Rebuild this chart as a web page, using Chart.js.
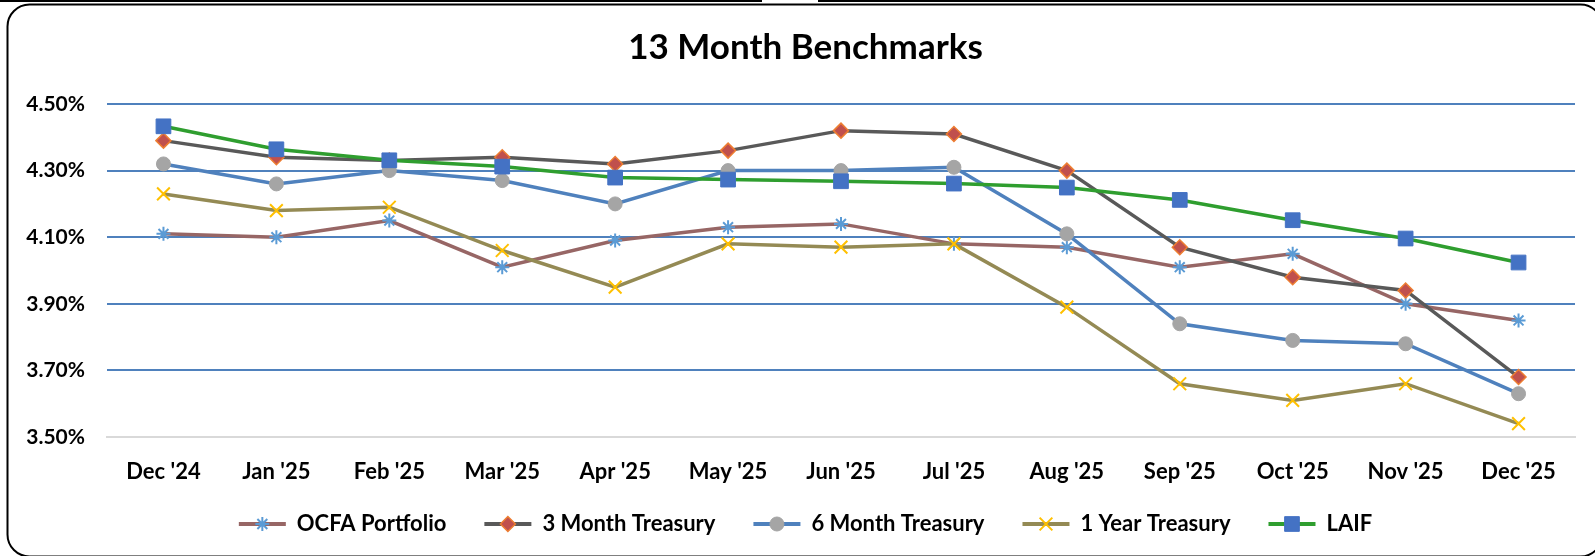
<!DOCTYPE html>
<html>
<head>
<meta charset="utf-8">
<title>13 Month Benchmarks</title>
<script src="https://cdn.jsdelivr.net/npm/chart.js@4.4.1/dist/chart.umd.min.js"></script>
<style>
  html, body { margin: 0; padding: 0; background: #fff; }
  canvas { display: block; }
</style>
</head>
<body>
<canvas id="benchChart" width="1595" height="556"></canvas>
<script>
// 13 month benchmark yields (percent)
const months = ["Dec '24", "Jan '25", "Feb '25", "Mar '25", "Apr '25", "May '25", "Jun '25",
                "Jul '25", "Aug '25", "Sep '25", "Oct '25", "Nov '25", "Dec '25"];
const ocfaPortfolio = [4.11, 4.10, 4.15, 4.01, 4.09, 4.13, 4.14, 4.08, 4.07, 4.01, 4.05, 3.90, 3.85];
const treasury3m = [4.39, 4.34, 4.33, 4.34, 4.32, 4.36, 4.42, 4.41, 4.30, 4.07, 3.98, 3.94, 3.68];
const treasury6m = [4.32, 4.26, 4.30, 4.27, 4.20, 4.30, 4.30, 4.31, 4.11, 3.84, 3.79, 3.78, 3.63];
const treasury1y = [4.23, 4.18, 4.19, 4.06, 3.95, 4.08, 4.07, 4.08, 3.89, 3.66, 3.61, 3.66, 3.54];
const laif = [4.433, 4.364, 4.331, 4.312, 4.279, 4.273, 4.268, 4.261, 4.249, 4.212, 4.151, 4.096, 4.024];
const yTicks = [3.5, 3.7, 3.9, 4.1, 4.3, 4.5];

Chart.defaults.font.family = 'Lato, "Open Sans", sans-serif';
Chart.defaults.font.weight = 'bold';
Chart.defaults.color = '#000';

// white background + rounded frame like the Excel chart object
const framePlugin = {
  id: 'frame',
  beforeDraw(chart) {
    const ctx = chart.ctx;
    ctx.save();
    ctx.fillStyle = '#fff';
    ctx.fillRect(0, 0, chart.width, chart.height);
    ctx.strokeStyle = '#000';
    ctx.lineWidth = 2;
    ctx.beginPath();
    ctx.moveTo(0, 1); ctx.lineTo(762, 1);
    ctx.moveTo(818, 1); ctx.lineTo(chart.width, 1);
    ctx.stroke();
    ctx.beginPath();
    ctx.roundRect(7.5, 4.5, 1595, 552, 22);
    ctx.stroke();
    ctx.restore();
  }
};

// the Excel frame runs past the right edge, so title/legend sit a bit right of canvas centre
const nudgePlugin = {
  id: 'nudge',
  afterLayout(chart) {
    if (chart.titleBlock) { chart.titleBlock.left += 18; chart.titleBlock.right += 18; }
    if (chart.legend) { chart.legend.left += 18; chart.legend.right += 18; }
  }
};

// draw each series' marker in the middle of its legend line
const legendMarkers = {
  id: 'legendMarkers',
  afterDraw(chart) {
    const legend = chart.legend;
    if (!legend || !legend.legendHitBoxes) return;
    const ctx = chart.ctx;
    const boxW = legend.options.labels.boxWidth;
    legend.legendItems.forEach((item, i) => {
      const hb = legend.legendHitBoxes[i];
      const ds = chart.data.datasets[item.datasetIndex];
      const x = hb.left + boxW / 2;
      const y = hb.top + hb.height / 2;
      ctx.save();
      ctx.fillStyle = ds.pointBackgroundColor;
      ctx.strokeStyle = ds.pointBorderColor;
      ctx.lineWidth = ds.pointBorderWidth;
      Chart.helpers.drawPoint(ctx, {
        pointStyle: ds.pointStyle,
        radius: ds.pointRadius,
        rotation: 0,
        borderWidth: ds.pointBorderWidth
      }, x, y);
      ctx.restore();
    });
  }
};

new Chart(document.getElementById('benchChart'), {
  type: 'line',
  data: {
    labels: months,
    datasets: [
      {
        label: 'OCFA Portfolio', data: ocfaPortfolio, order: 4,
        borderColor: '#976665', backgroundColor: '#976665', borderWidth: 3.5,
        pointStyle: 'star', pointRadius: 7, pointBorderWidth: 2,
        pointBorderColor: '#5b9bd5', pointBackgroundColor: 'rgba(0,0,0,0)'
      },
      {
        label: '3 Month Treasury', data: treasury3m, order: 3,
        borderColor: '#595959', backgroundColor: '#595959', borderWidth: 3.5,
        pointStyle: 'rectRot', pointRadius: 7.5, pointBorderWidth: 1.5,
        pointBorderColor: '#ed7d31', pointBackgroundColor: '#c0504d'
      },
      {
        label: '6 Month Treasury', data: treasury6m, order: 2,
        borderColor: '#4f81bd', backgroundColor: '#4f81bd', borderWidth: 3.5,
        pointStyle: 'circle', pointRadius: 7, pointBorderWidth: 1,
        pointBorderColor: '#a5a5a5', pointBackgroundColor: '#a5a5a5'
      },
      {
        label: '1 Year Treasury', data: treasury1y, order: 1,
        borderColor: '#948a54', backgroundColor: '#948a54', borderWidth: 3.5,
        pointStyle: 'crossRot', pointRadius: 9, pointBorderWidth: 2,
        pointBorderColor: '#ffc000', pointBackgroundColor: 'rgba(0,0,0,0)'
      },
      {
        label: 'LAIF', data: laif, order: 0,
        borderColor: '#2f9e2f', backgroundColor: '#2f9e2f', borderWidth: 3.5,
        pointStyle: 'rect', pointRadius: 10.4, pointBorderWidth: 1,
        pointBorderColor: '#4472c4', pointBackgroundColor: '#4472c4'
      }
    ]
  },
  options: {
    responsive: false,
    animation: false,
    devicePixelRatio: 1,
    layout: { padding: { left: 0, right: 20, top: 0, bottom: 11 } },
    elements: { line: { tension: 0, fill: false } },
    plugins: {
      title: {
        display: true,
        text: '13 Month Benchmarks',
        font: { size: 35, weight: 'bold' },
        color: '#000',
        padding: { top: 27, bottom: 35 }
      },
      legend: {
        position: 'bottom',
        labels: {
          boxWidth: 47,
          boxHeight: 4,
          padding: 38,
          font: { size: 22, weight: 'bold' },
          sort: (a, b) => a.datasetIndex - b.datasetIndex,
          generateLabels(chart) {
            const items = Chart.defaults.plugins.legend.labels.generateLabels(chart);
            items.forEach(it => {
              const ds = chart.data.datasets[it.datasetIndex];
              it.fillStyle = ds.borderColor;
              it.strokeStyle = ds.borderColor;
              it.lineWidth = 0;
            });
            return items;
          }
        }
      },
      tooltip: { enabled: false }
    },
    scales: {
      x: {
        offset: true,
        afterFit(scale) {
          scale.height = 38;
          scale._computeLabelArea = () => undefined; // let labels overhang into the legend band
        },
        grid: { display: false, drawTicks: false },
        border: { display: true, color: '#d9d9d9', width: 2 },
        ticks: { padding: 22, font: { size: 22, weight: 'bold' }, maxRotation: 0, autoSkip: false }
      },
      y: {
        min: 3.5,
        max: 4.5,
        afterBuildTicks(scale) { scale.ticks = yTicks.map(v => ({ value: v })); },
        afterFit(scale) { scale.width = 107; },
        grid: {
          drawTicks: false,
          lineWidth: 2,
          color: c => (c.tick && c.tick.value === 3.5 ? 'rgba(0,0,0,0)' : '#4f81bd')
        },
        border: { display: false },
        ticks: {
          padding: 22,
          font: { size: 21, weight: 'bold' },
          callback: v => Number(v).toFixed(2) + '%'
        }
      }
    }
  },
  plugins: [framePlugin, nudgePlugin, legendMarkers]
});
</script>
</body>
</html>
